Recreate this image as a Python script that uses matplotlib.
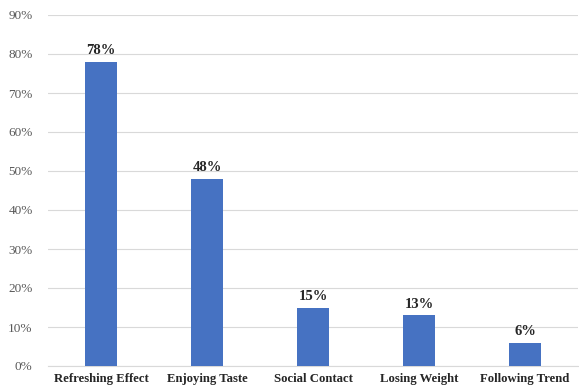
import matplotlib
matplotlib.use('Agg')
import matplotlib.pyplot as plt
from matplotlib.ticker import PercentFormatter

categories = ['Refreshing Effect', 'Enjoying Taste', 'Social Contact', 'Losing Weight', 'Following Trend']
values = [78, 48, 15, 13, 6]
yticks = list(range(0, 91, 10))

plt.rcParams['font.family'] = ['Liberation Serif', 'DejaVu Serif']

fig = plt.figure(figsize=(5.79, 3.87), dpi=100)
ax = fig.add_axes([48 / 579, 21 / 387, 530 / 579, 351 / 387])

x = range(len(categories))
ax.bar(x, values, width=0.31, color='#4672C2', zorder=3)

for i, v in zip(x, values):
    ax.text(i, v + 1.2, f'{v}%', ha='center', va='bottom',
            fontsize=10.5, fontweight='bold', color='#262626')

ax.set_xlim(-0.5, 4.5)
ax.set_ylim(0, 90)
ax.set_yticks(yticks)
ax.yaxis.set_major_formatter(PercentFormatter(decimals=0))
ax.set_xticks(list(x))
ax.set_xticklabels(categories, fontsize=9.2, fontweight='bold', color='#262626')
ax.tick_params(axis='y', labelsize=9.5, labelcolor='#595959', length=0, pad=11)
ax.tick_params(axis='x', length=0, pad=5)
ax.grid(axis='y', color='#d9d9d9', linewidth=0.8, zorder=0)
for s in ['top', 'right', 'left']:
    ax.spines[s].set_visible(False)
ax.spines['bottom'].set_color('#d9d9d9')

fig.savefig('out.png', dpi=100)
